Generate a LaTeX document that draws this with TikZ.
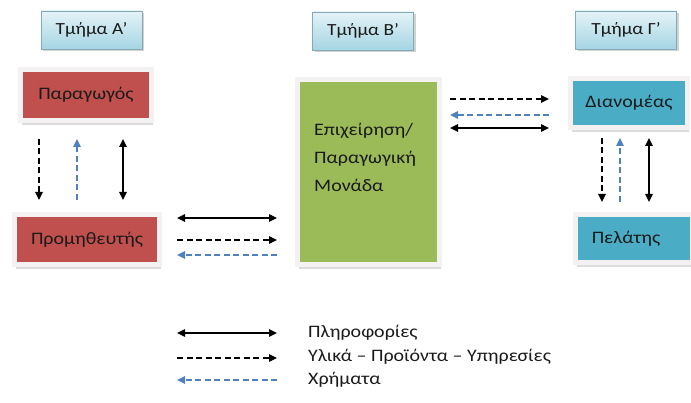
\documentclass[tikz,border=0pt]{standalone}
\usepackage{fontspec}
\setmainfont{Carlito}[FakeStretch=1.14]
\usetikzlibrary{arrows.meta,shadows}
\definecolor{redbox}{HTML}{C0504D}
\definecolor{greenbox}{HTML}{9BBB59}
\definecolor{bluebox}{HTML}{4BACC6}
\definecolor{hdrtop}{HTML}{E4F3F7}
\definecolor{hdrbot}{HTML}{A5D5E3}
\definecolor{frame}{HTML}{F3F1F1}
\definecolor{money}{HTML}{4F81BD}
\definecolor{txt}{HTML}{1A1A1A}
\tikzset{
  hdr/.style={rectangle, top color=hdrtop, bottom color=hdrbot, draw=hdrbot!80!black, line width=0.3pt,
    minimum width=101pt, minimum height=38pt, inner sep=0pt, text=txt,
    drop shadow={shadow xshift=2pt, shadow yshift=-2.5pt, fill=gray!70}, font=\fontsize{17}{20}\selectfont},
  unit/.style={rectangle, draw=frame, line width=5pt, inner sep=0pt, text=txt,
    drop shadow={shadow xshift=1pt, shadow yshift=-5pt, fill=gray!55}, font=\fontsize{17.5}{20}\selectfont},
  info/.style={line width=1.5pt, black, {Triangle[length=8pt,width=7.5pt]}-{Triangle[length=8pt,width=7.5pt]}},
  goods/.style={line width=1.5pt, black, dash pattern=on 6pt off 3.5pt, -{Triangle[length=8pt,width=7.5pt]}},
  cash/.style={line width=1.5pt, money, dash pattern=on 6pt off 3.5pt, -{Triangle[length=8pt,width=7.5pt]}},
  legtext/.style={anchor=west, inner sep=0pt, text=txt, font=\fontsize{17.5}{20}\selectfont}
}
\begin{document}
\begin{tikzpicture}[x=1pt,y=-1pt]
\useasboundingbox (0,0) rectangle (691,403);
% headers
\node[hdr] (hA) at (91.5,30) {Τμήμα Α’};
\node[hdr] (hB) at (363,31) {Τμήμα Β’};
\node[hdr] (hG) at (626,30) {Τμήμα Γ’};
% units
\node[unit, fill=redbox, minimum width=131pt, minimum height=51pt] (parag) at (86,95) {Παραγωγός};
\node[unit, fill=redbox, minimum width=145pt, minimum height=50pt] (prom) at (87,239.5) {Προμηθευτής};
\node[unit, fill=greenbox, minimum width=142pt, minimum height=185pt] (epi) at (368.5,172) {};
\node[anchor=west, align=left, inner sep=0pt, text=txt, font=\fontsize{17.5}{28}\selectfont] (epitext) at (314,157) {Επιχείρηση/\\Παραγωγική\\Μονάδα};
\node[unit, fill=bluebox, minimum width=117pt, minimum height=49pt] (dian) at (629,103) {Διανομέας};
\node[unit, fill=bluebox, minimum width=117pt, minimum height=48pt] (pel) at (634,238.5) {Πελάτης\hspace*{16pt}};
% left vertical arrows
\draw[goods, shorten <=16pt, shorten >=12pt] ([xshift=-47pt]parag.south) -- ([xshift=-47pt]parag.south |- prom.north);
\draw[cash, shorten >=16pt, shorten <=12pt] ([xshift=-9pt]parag.south |- prom.north) -- ([xshift=-9pt]parag.south);
\draw[info, shorten <=16pt, shorten >=12pt] ([xshift=37pt]parag.south) -- ([xshift=37pt]parag.south |- prom.north);
% left horizontal arrows
\draw[info, shorten <=15pt, shorten >=18pt] ([yshift=21.5pt]prom.east) -- ([yshift=21.5pt]prom.east -| epi.west);
\draw[goods, shorten <=15pt, shorten >=18pt] ([yshift=-0.5pt]prom.east) -- ([yshift=-0.5pt]prom.east -| epi.west);
\draw[cash, shorten >=15pt, shorten <=18pt] ([yshift=-15.5pt]prom.east -| epi.west) -- ([yshift=-15.5pt]prom.east);
% right horizontal arrows
\draw[goods, shorten <=8pt, shorten >=19pt] ([yshift=4pt]dian.west -| epi.east) -- ([yshift=4pt]dian.west);
\draw[cash, shorten >=8pt, shorten <=19pt] ([yshift=-12pt]dian.west) -- ([yshift=-12pt]dian.west -| epi.east);
\draw[info, shorten <=8pt, shorten >=19pt] ([yshift=-25pt]dian.west -| epi.east) -- ([yshift=-25pt]dian.west);
% right vertical arrows
\draw[goods, shorten <=8pt, shorten >=10pt] ([xshift=-27pt]dian.south) -- ([xshift=-27pt]dian.south |- pel.north);
\draw[cash, shorten >=8pt, shorten <=10pt] ([xshift=-9pt]dian.south |- pel.north) -- ([xshift=-9pt]dian.south);
\draw[info, shorten <=8pt, shorten >=10pt] ([xshift=20pt]dian.south) -- ([xshift=20pt]dian.south |- pel.north);
% legend
\node[legtext] (l1) at (308,333) {Πληροφορίες};
\node[legtext] (l2) at (308,357) {Υλικά – Προϊόντα – Υπηρεσίες};
\node[legtext] (l3) at (308,380) {Χρήματα};
\coordinate (l1a) at (177,333); \coordinate (l1b) at (277,333);
\coordinate (l2a) at (177,358); \coordinate (l2b) at (277,358);
\coordinate (l3a) at (177,380); \coordinate (l3b) at (277,380);
\draw[info] (l1a) -- (l1b);
\draw[goods] (l2a) -- (l2b);
\draw[cash] (l3b) -- (l3a);
\end{tikzpicture}
\end{document}
